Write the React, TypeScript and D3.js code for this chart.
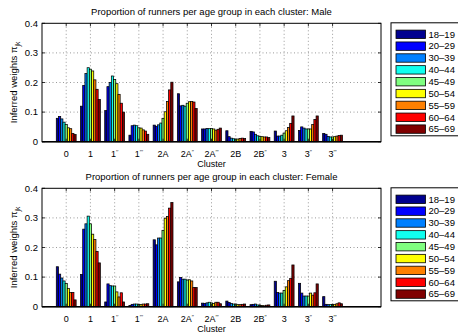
import React from "react";
import * as d3 from "d3";

const categories = ["0", "1", "1''", "1'''", "2A", "2A''", "2A'''", "2B", "2B''", "3", "3''", "3'''"];
const ageGroups = ["18–19", "20–29", "30–39", "40–44", "45–49", "50–54", "55–59", "60–64", "65–69"];
const ageColors = ["#00008f", "#0000ff", "#0080ff", "#10ffef", "#80ff80", "#ffff00", "#ff8000", "#ff0000", "#800000"];
const yTicks = [0, 0.1, 0.2, 0.3, 0.4];

// rows = clusters, columns = age groups
const maleValues = [
  [0.079, 0.085, 0.077, 0.066, 0.058, 0.047, 0.044, 0.028, 0.024],
  [0.12, 0.19, 0.23, 0.25, 0.245, 0.239, 0.209, 0.177, 0.143],
  [0.105, 0.186, 0.2, 0.222, 0.21, 0.196, 0.16, 0.13, 0.1],
  [0.022, 0.054, 0.056, 0.054, 0.047, 0.046, 0.04, 0.036, 0.025],
  [0.056, 0.052, 0.057, 0.063, 0.079, 0.101, 0.136, 0.175, 0.201],
  [0.162, 0.121, 0.123, 0.12, 0.13, 0.135, 0.136, 0.134, 0.112],
  [0.043, 0.043, 0.045, 0.044, 0.045, 0.043, 0.039, 0.042, 0.046],
  [0.037, 0.017, 0.012, 0.01, 0.009, 0.009, 0.011, 0.012, 0.011],
  [0.035, 0.033, 0.025, 0.02, 0.018, 0.017, 0.016, 0.016, 0.014],
  [0.036, 0.019, 0.019, 0.022, 0.029, 0.037, 0.048, 0.062, 0.087],
  [0.038, 0.05, 0.046, 0.043, 0.043, 0.043, 0.058, 0.075, 0.087],
  [0.028, 0.025, 0.018, 0.016, 0.016, 0.017, 0.019, 0.021, 0.022],
];

const femaleValues = [
  [0.135, 0.11, 0.097, 0.087, 0.078, 0.062, 0.048, 0.048, 0.023],
  [0.109, 0.262, 0.28, 0.306, 0.28, 0.245, 0.227, 0.187, 0.148],
  [0.016, 0.077, 0.071, 0.07, 0.07, 0.05, 0.033, 0.047, 0.016],
  [0.004, 0.008, 0.009, 0.009, 0.008, 0.007, 0.009, 0.009, 0.01],
  [0.226, 0.209, 0.232, 0.232, 0.258, 0.299, 0.305, 0.333, 0.352],
  [0.084, 0.099, 0.093, 0.093, 0.09, 0.091, 0.087, 0.065, 0.065],
  [0.012, 0.011, 0.013, 0.015, 0.013, 0.011, 0.015, 0.015, 0.01],
  [0.019, 0.014, 0.011, 0.009, 0.009, 0.007, 0.007, 0.008, 0.009],
  [0.007, 0.008, 0.009, 0.006, 0.004, 0.004, 0.003, 0.005, 0.006],
  [0.086, 0.048, 0.046, 0.046, 0.055, 0.067, 0.088, 0.095, 0.141],
  [0.079, 0.046, 0.036, 0.036, 0.036, 0.046, 0.039, 0.047, 0.077],
  [0.034, 0.008, 0.007, 0.007, 0.008, 0.008, 0.01, 0.013, 0.01],
];

const FONT = "'Liberation Sans', Arial, Helvetica, sans-serif";

function TickLabel({ label, x, y }: { label: string; x: number; y: number }) {
  const m = label.match(/^([^']*)('*)$/);
  const base = m ? m[1] : label;
  const primes = m ? m[2].length : 0;
  return (
    <text x={x} y={y} textAnchor="middle" fontSize={9} fontFamily={FONT}>
      {base}
      {primes > 0 && (
        <tspan fontSize={5.5} dy={-3.5}>
          {"′".repeat(primes)}
        </tspan>
      )}
    </text>
  );
}

function Panel({ top, title, values }: { top: number; title: string; values: number[][] }) {
  const left = 42;
  const right = 381;
  const bottom = top + 118.4;
  const x = d3.scaleLinear().domain([0, 14]).range([left, right]);
  const y = d3.scaleLinear().domain([0, 0.4]).range([bottom, top]);
  const groupW = 0.82;
  const n = ageGroups.length;
  const bw = groupW / n;
  const legTop = top - 0.5;
  const legH = 113;
  return (
    <g>
      <text x={(left + right) / 2} y={top - 8} textAnchor="middle" fontSize={9.5} fontFamily={FONT}>
        {title}
      </text>
      {/* grid */}
      {yTicks.slice(1, -1).map((t) => (
        <line key={"h" + t} x1={left} x2={right} y1={y(t)} y2={y(t)} stroke="#555" strokeWidth={0.6} strokeDasharray="1,2.5" />
      ))}
      {categories.map((c, i) => (
        <line key={"v" + c} x1={x(i + 1)} x2={x(i + 1)} y1={top} y2={bottom} stroke="#555" strokeWidth={0.6} strokeDasharray="1,2.5" />
      ))}
      {/* bars */}
      {values.map((row, i) =>
        row.map((v, j) => {
          const x0 = x(i + 1 - groupW / 2 + j * bw);
          const x1 = x(i + 1 - groupW / 2 + (j + 1) * bw);
          return (
            <rect
              key={i + "-" + j}
              x={x0}
              y={y(v)}
              width={x1 - x0}
              height={y(0) - y(v)}
              fill={ageColors[j]}
              stroke="#000"
              strokeWidth={0.75}
            />
          );
        })
      )}
      {/* box */}
      <rect x={left} y={top} width={right - left} height={bottom - top} fill="none" stroke="#000" strokeWidth={1} />
      <line x1={left} x2={right} y1={bottom} y2={bottom} stroke="#000" strokeWidth={1.5} />
      {/* y ticks */}
      {yTicks.map((t) => (
        <g key={"y" + t}>
          <line x1={left} x2={left + 3} y1={y(t)} y2={y(t)} stroke="#000" strokeWidth={0.8} />
          <line x1={right} x2={right - 3} y1={y(t)} y2={y(t)} stroke="#000" strokeWidth={0.8} />
          <text x={left - 4} y={y(t) + 3.3} textAnchor="end" fontSize={9.5} fontFamily={FONT}>
            {t === 0 ? "0" : d3.format(".1f")(t)}
          </text>
        </g>
      ))}
      {/* x ticks */}
      {categories.map((c, i) => (
        <g key={"x" + c}>
          <line x1={x(i + 1)} x2={x(i + 1)} y1={bottom} y2={bottom - 3} stroke="#000" strokeWidth={0.8} />
          <line x1={x(i + 1)} x2={x(i + 1)} y1={top} y2={top + 3} stroke="#000" strokeWidth={0.8} />
          <TickLabel label={c} x={x(i + 1)} y={bottom + 15.5} />
        </g>
      ))}
      <text x={(left + right) / 2} y={bottom + 25} textAnchor="middle" fontSize={9} fontFamily={FONT}>
        Cluster
      </text>
      <text
        transform={`translate(${17},${(top + bottom) / 2}) rotate(-90)`}
        textAnchor="middle"
        fontSize={9.5}
        fontFamily={FONT}
      >
        Inferred weights π
        <tspan fontSize={6.5} dy={2.5}>
          jk
        </tspan>
      </text>
      {/* legend */}
      <rect x={391} y={legTop} width={72} height={legH} fill="#fff" stroke="#000" strokeWidth={1} />
      {ageGroups.map((g, j) => {
        const cy = legTop + 11.5 + j * 11.85;
        return (
          <g key={g}>
            <rect x={396} y={cy - 4.2} width={29.5} height={8.4} fill={ageColors[j]} stroke="#000" strokeWidth={0.8} />
            <text x={428.5} y={cy + 3.3} fontSize={9.5} fontFamily={FONT}>
              {g}
            </text>
          </g>
        );
      })}
    </g>
  );
}

export default function App() {
  return (
    <svg width={458} height={333} style={{ position: "absolute", left: 0, top: 0 }}>
      <rect width={458} height={333} fill="#fff" />
      <Panel top={23.3} title="Proportion of runners per age group in each cluster: Male" values={maleValues} />
      <Panel top={188.3} title="Proportion of runners per age group in each cluster: Female" values={femaleValues} />
    </svg>
  );
}
